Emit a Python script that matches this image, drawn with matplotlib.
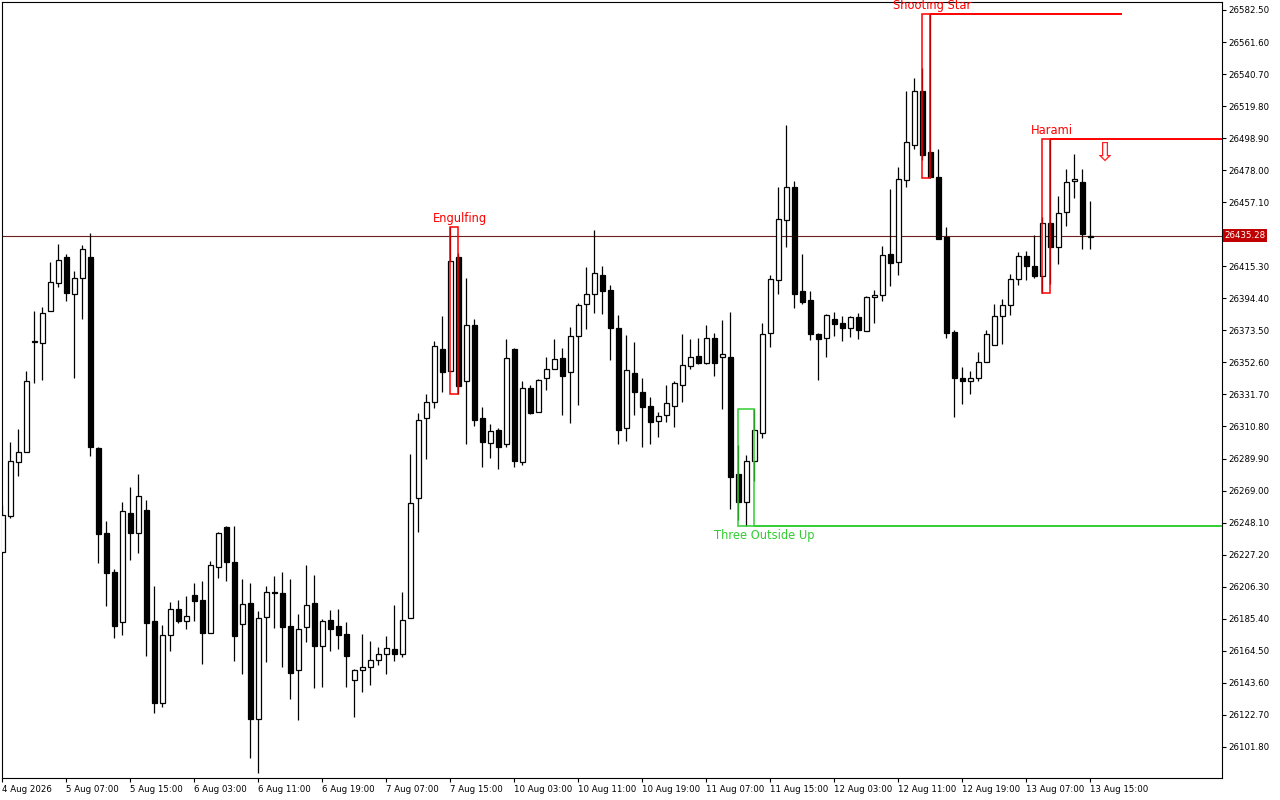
import numpy as np
import matplotlib
matplotlib.use("Agg")
import matplotlib.pyplot as plt
from matplotlib.patches import Rectangle
from matplotlib.transforms import blended_transform_factory

# Hourly candles, 4 Aug 2026 -> 13 Aug 2026
opens = [
    26228.9, 26252.4, 26287.6, 26294.2, 26365.9, 26365.3, 26386.1, 26404.4, 26421.4, 26397.2,
    26407.7, 26421.4, 26296.8, 26241.3, 26215.9, 26183.3, 26254.4, 26241.3, 26256.3, 26183.9,
    26130.4, 26174.8, 26191.8, 26183.9, 26200.9, 26197.6, 26176.1, 26219.1, 26245.2, 26222.4,
    26182.0, 26195.7, 26120.0, 26186.5, 26202.8, 26202.2, 26180.7, 26152.0, 26180.0, 26195.7,
    26167.6, 26184.6, 26180.7, 26175.4, 26145.4, 26152.0, 26153.9, 26158.5, 26162.4, 26165.7,
    26162.4, 26185.9, 26264.2, 26316.3, 26326.8, 26361.4, 26347.0, 26421.4, 26340.5, 26377.0,
    26316.3, 26300.0, 26308.5, 26299.4, 26361.4, 26287.6, 26335.9, 26320.3, 26342.4, 26348.3,
    26355.5, 26346.3, 26369.8, 26390.7, 26397.2, 26409.6, 26399.8, 26375.0, 26309.8, 26345.7,
    26333.3, 26324.2, 26314.4, 26318.3, 26324.2, 26337.9, 26350.3, 26356.8, 26352.2, 26368.5,
    26356.1, 26356.1, 26279.8, 26261.6, 26288.3, 26306.6, 26371.8, 26406.4, 26445.5, 26467.0,
    26399.2, 26393.3, 26371.1, 26368.5, 26380.9, 26378.3, 26375.0, 26382.2, 26373.1, 26395.3,
    26396.6, 26423.3, 26418.1, 26471.6, 26494.4, 26529.7, 26489.9, 26473.5, 26434.4, 26372.4,
    26342.4, 26340.5, 26342.4, 26352.9, 26364.0, 26382.9, 26390.1, 26407.0, 26422.0, 26415.5,
    26409.0, 26443.5, 26427.9, 26450.7, 26470.9, 26470.3, 26434.4]

highs = [
    26259.6, 26300.7, 26309.2, 26347.0, 26386.1, 26388.7, 26418.1, 26429.8, 26423.3, 26412.2,
    26429.2, 26437.0, 26297.4, 26249.2, 26217.8, 26261.6, 26271.3, 26279.8, 26262.9, 26206.8,
    26181.3, 26196.3, 26197.6, 26200.2, 26208.7, 26210.0, 26223.1, 26242.0, 26245.9, 26245.9,
    26211.3, 26208.7, 26190.5, 26206.8, 26213.3, 26215.9, 26211.3, 26188.5, 26220.5, 26213.9,
    26185.2, 26191.1, 26191.8, 26183.3, 26152.6, 26175.4, 26170.9, 26167.0, 26174.1, 26194.4,
    26202.8, 26292.9, 26319.6, 26332.0, 26366.6, 26382.9, 26440.9, 26424.0, 26407.7, 26380.9,
    26323.5, 26312.4, 26309.8, 26367.9, 26362.0, 26340.5, 26337.9, 26341.8, 26356.1, 26367.9,
    26362.0, 26375.7, 26391.4, 26414.8, 26439.0, 26415.5, 26403.1, 26383.5, 26370.5, 26365.9,
    26342.4, 26330.0, 26320.3, 26337.9, 26340.5, 26371.1, 26367.9, 26368.5, 26377.0, 26371.8,
    26380.3, 26385.5, 26298.7, 26292.2, 26322.2, 26378.3, 26409.6, 26467.0, 26507.5, 26470.9,
    26423.3, 26399.2, 26371.8, 26384.2, 26385.5, 26382.9, 26382.9, 26384.8, 26395.9, 26399.8,
    26428.5, 26465.7, 26480.1, 26529.7, 26538.1, 26544.7, 26579.9, 26491.8, 26440.9, 26373.7,
    26349.6, 26347.0, 26359.4, 26373.7, 26390.7, 26394.0, 26410.3, 26424.6, 26425.3, 26435.7,
    26447.5, 26498.3, 26461.2, 26478.8, 26488.6, 26478.8, 26457.9]

lows = [
    26228.3, 26251.1, 26278.5, 26294.2, 26339.2, 26341.1, 26386.1, 26401.8, 26392.7, 26342.4,
    26380.9, 26291.6, 26221.8, 26193.7, 26172.8, 26174.8, 26223.7, 26228.3, 26161.1, 26123.9,
    26127.8, 26164.4, 26182.6, 26178.7, 26183.9, 26155.9, 26176.1, 26212.0, 26210.0, 26157.8,
    26149.4, 26094.6, 26084.8, 26157.2, 26179.4, 26153.9, 26133.0, 26119.3, 26170.2, 26140.2,
    26140.9, 26164.4, 26165.7, 26140.9, 26121.3, 26137.6, 26142.2, 26155.2, 26149.4, 26157.8,
    26160.4, 26185.9, 26242.0, 26289.6, 26322.9, 26333.3, 26347.0, 26332.0, 26299.4, 26311.1,
    26284.4, 26290.3, 26283.1, 26297.4, 26284.4, 26285.7, 26319.0, 26320.3, 26334.6, 26348.3,
    26318.3, 26313.1, 26324.8, 26374.4, 26384.8, 26384.2, 26354.2, 26299.4, 26301.3, 26318.3,
    26297.4, 26299.4, 26303.9, 26313.7, 26310.5, 26326.8, 26348.3, 26351.6, 26351.6, 26343.7,
    26322.2, 26257.0, 26249.8, 26245.9, 26275.2, 26303.3, 26362.7, 26397.2, 26427.9, 26388.1,
    26390.7, 26367.2, 26341.1, 26356.1, 26369.8, 26366.6, 26369.2, 26367.9, 26373.1, 26378.3,
    26392.7, 26402.4, 26409.6, 26467.0, 26491.8, 26484.6, 26473.0, 26433.1, 26368.5, 26317.0,
    26325.5, 26332.0, 26340.5, 26352.9, 26364.0, 26364.6, 26383.5, 26403.1, 26406.4, 26407.7,
    26397.9, 26403.8, 26416.8, 26441.6, 26459.8, 26426.6, 26426.6]

closes = [
    26253.1, 26288.3, 26294.2, 26340.5, 26366.3, 26384.8, 26405.1, 26419.4, 26397.9, 26407.7,
    26426.6, 26297.4, 26240.7, 26215.2, 26180.7, 26255.7, 26241.3, 26265.5, 26182.6, 26130.4,
    26174.8, 26191.8, 26183.9, 26187.2, 26197.0, 26176.1, 26220.5, 26241.3, 26222.4, 26174.1,
    26195.0, 26120.0, 26185.9, 26202.8, 26202.2, 26180.0, 26150.0, 26178.7, 26194.4, 26167.6,
    26183.9, 26178.7, 26174.8, 26161.1, 26152.0, 26153.9, 26158.5, 26162.4, 26166.3, 26162.4,
    26184.6, 26260.9, 26315.0, 26326.8, 26363.3, 26346.3, 26418.8, 26337.2, 26377.0, 26315.0,
    26300.7, 26307.9, 26297.4, 26355.5, 26288.3, 26335.9, 26319.6, 26341.1, 26348.3, 26354.8,
    26343.7, 26369.8, 26390.1, 26397.2, 26410.9, 26399.2, 26375.0, 26308.5, 26347.7, 26333.3,
    26323.5, 26313.7, 26317.6, 26326.1, 26339.2, 26350.9, 26356.1, 26352.2, 26368.5, 26352.2,
    26358.1, 26277.9, 26261.6, 26288.3, 26308.5, 26371.1, 26407.0, 26446.2, 26467.0, 26397.2,
    26392.0, 26371.1, 26367.9, 26383.5, 26377.7, 26375.0, 26382.2, 26373.7, 26395.3, 26396.6,
    26422.7, 26417.5, 26472.2, 26496.4, 26529.7, 26487.9, 26473.5, 26433.1, 26371.8, 26342.4,
    26340.5, 26342.4, 26352.9, 26371.1, 26382.9, 26390.1, 26407.0, 26422.0, 26415.5, 26409.0,
    26443.5, 26427.9, 26450.1, 26470.3, 26472.2, 26436.4, 26435.28]

time_labels = ["4 Aug 2026", "5 Aug 07:00", "5 Aug 15:00", "6 Aug 03:00", "6 Aug 11:00",
               "6 Aug 19:00", "7 Aug 07:00", "7 Aug 15:00", "10 Aug 03:00", "10 Aug 11:00",
               "10 Aug 19:00", "11 Aug 07:00", "11 Aug 15:00", "12 Aug 03:00", "12 Aug 11:00",
               "12 Aug 19:00", "13 Aug 07:00", "13 Aug 15:00"]

last_price = 26435.28

# candlestick patterns found on the chart
pattern_names = ["Engulfing", "Three Outside Up", "Shooting Star", "Harami"]
pattern_first = [56, 92, 115, 130]
pattern_last = [57, 94, 116, 131]
pattern_colors = ["#ff0000", "#32cd32", "#ff0000", "#ff0000"]
pattern_level = [None, "low", "high", "high"]
pattern_line_to = [None, None, 140, None]   # None -> run to the right edge

o = np.array(opens)
h = np.array(highs)
l = np.array(lows)
c = np.array(closes)
x = np.arange(len(o))

fig = plt.figure(figsize=(12.8, 8), dpi=100)
ax = fig.add_axes([2 / 1280, 22 / 800, 1220 / 1280, 776 / 800])
ax.set_xlim(-0.04, 152.46)
ax.set_ylim(26081.5, 26587.7)

# last price line
ax.axhline(last_price, color="#6e2020", lw=0.8, zorder=1)

# candles
up = c >= o
ax.vlines(x, l, h, color="black", lw=0.9, zorder=2)
ax.bar(x, np.abs(c - o), bottom=np.minimum(o, c), width=0.62,
       color=np.where(up, "white", "black"), edgecolor="black", linewidth=0.9, zorder=3)

# pattern boxes, levels and names
for name, s, e, col, lev, to in zip(pattern_names, pattern_first, pattern_last,
                                    pattern_colors, pattern_level, pattern_line_to):
    top = h[s:e + 1].max()
    bot = l[s:e + 1].min()
    ax.add_patch(Rectangle((s, bot), e - s, top - bot, fill=False, edgecolor=col, lw=1.1, zorder=4))
    if lev is not None:
        y = top if lev == "high" else bot
        x_end = to if to is not None else ax.get_xlim()[1]
        ax.plot([e, x_end], [y, y], color=col, lw=1.4, zorder=4, solid_capstyle="butt")
    if lev == "low":
        ax.text(e + 1.3, bot - 2.0, name, color=col, fontsize=8.3, ha="center", va="top", zorder=5)
    else:
        ax.text(e + 0.2, top + 1.2, name, color=col, fontsize=8.3, ha="center", va="bottom",
                zorder=5, clip_on=False)

# sell arrow next to the last candle
ax.text(x[-1] + 1.8, 26489.0, "\u21e9", color="#ff2020", fontsize=19, ha="center", va="center", zorder=5)

# axes styling like the terminal
for sp in ax.spines.values():
    sp.set_linewidth(0.8)
    sp.set_color("black")

yt = 26101.8 + 20.9 * np.arange(24)
ylabels = ["%.2f" % v if abs(v - last_price) > 5 else "" for v in yt]
ax.yaxis.tick_right()
ax.set_yticks(yt)
ax.set_yticklabels(ylabels)
ax.tick_params(axis="y", direction="out", length=3, width=0.8, labelsize=6.2, pad=1.5)

ax.set_xticks(x[::8])
ax.set_xticklabels(time_labels, ha="left")
ax.tick_params(axis="x", direction="out", length=3, width=0.8, labelsize=6.2, pad=2)

# last price tag on the price scale
tr = blended_transform_factory(ax.transAxes, ax.transData)
ax.text(1.002, last_price, "%.2f" % last_price, transform=tr, color="white", fontsize=6.2,
        ha="left", va="center", clip_on=False, zorder=6,
        bbox=dict(boxstyle="square,pad=0.2", facecolor="#c00000", edgecolor="none"))

fig.savefig("out.png", dpi=100)
